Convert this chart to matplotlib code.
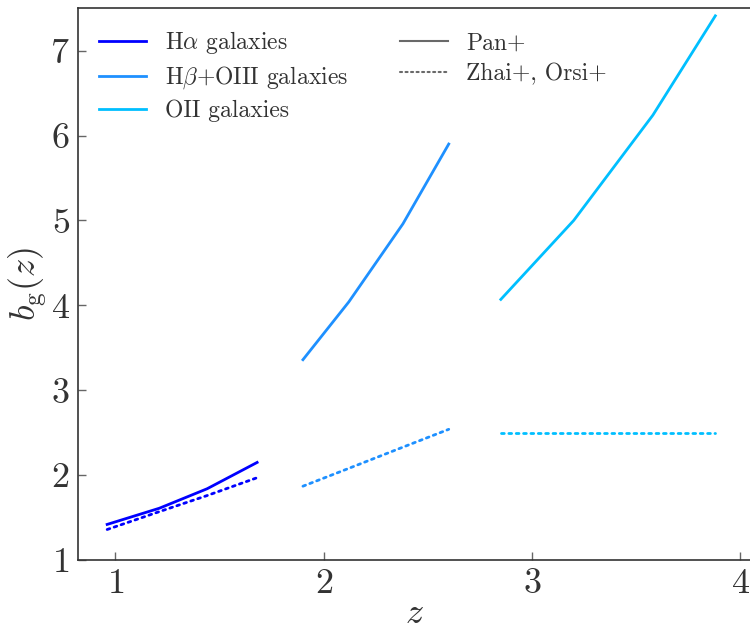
import matplotlib
matplotlib.use("Agg")
import matplotlib.pyplot as plt
from matplotlib.lines import Line2D

plt.rcParams.update({
    "font.family": "serif",
    "font.serif": ["cmr10", "DejaVu Serif"],
    "mathtext.fontset": "cm",
    "axes.formatter.use_mathtext": True,
    "text.color": "0.2",
    "axes.labelcolor": "0.2",
    "xtick.color": "0.4",
    "ytick.color": "0.4",
    "xtick.labelcolor": "0.2",
    "ytick.labelcolor": "0.2",
})

# redshift bins and bias values per tracer
z_ha = [0.96, 1.21, 1.44, 1.68]
b_ha_pan = [1.42, 1.61, 1.84, 2.15]
b_ha_lit = [1.36, 1.57, 1.76, 1.97]

z_hb = [1.90, 2.12, 2.38, 2.60]
b_hb_pan = [3.36, 4.04, 4.96, 5.90]
b_hb_lit = [1.87, 2.08, 2.33, 2.54]

z_oii = [2.85, 3.20, 3.58, 3.88]
b_oii_pan = [4.07, 5.00, 6.24, 7.41]
b_oii_lit = [2.50, 2.50, 2.50, 2.50]

tracers = [
    (r"H$\alpha$ galaxies", z_ha, b_ha_pan, b_ha_lit, "blue"),
    (r"H$\beta$+OIII galaxies", z_hb, b_hb_pan, b_hb_lit, "dodgerblue"),
    ("OII galaxies", z_oii, b_oii_pan, b_oii_lit, "deepskyblue"),
]

fig = plt.figure(figsize=(7.5, 6.3), dpi=100)
ax = fig.add_axes([0.104, 0.111, 0.897, 0.876])

handles = []
for label, z, bp, bl, c in tracers:
    ax.plot(z, bp, "-", color=c, lw=2)
    ax.plot(z, bl, ":", color=c, lw=2, dash_capstyle="round")
    handles.append(Line2D([], [], color=c, lw=2, label=label))

handles.append(Line2D([], [], color="dimgray", lw=1.5, ls="-", label="Pan+"))
handles.append(Line2D([], [], color="dimgray", lw=1.5, ls=":",
                      dash_capstyle="round", label="Zhai+, Orsi+"))

ax.set_xlim(0.82, 4.05)
ax.set_ylim(1, 7.5)
ax.set_xticks([1, 2, 3, 4])
ax.set_yticks([1, 2, 3, 4, 5, 6, 7])
ax.tick_params(direction="in", length=6, width=1, labelsize=26, pad=6)
for sp in ax.spines.values():
    sp.set_color("0.2")
    sp.set_linewidth(1.2)

ax.set_xlabel(r"$z$", fontsize=26, labelpad=-1)
ax.set_ylabel(r"$b_{\rm g}(z)$", fontsize=26, labelpad=1)

ax.legend(handles=handles, ncol=2, loc="upper left", frameon=False,
          fontsize=17, labelspacing=0.35, columnspacing=2.2)

fig.savefig("out.png", dpi=100)
